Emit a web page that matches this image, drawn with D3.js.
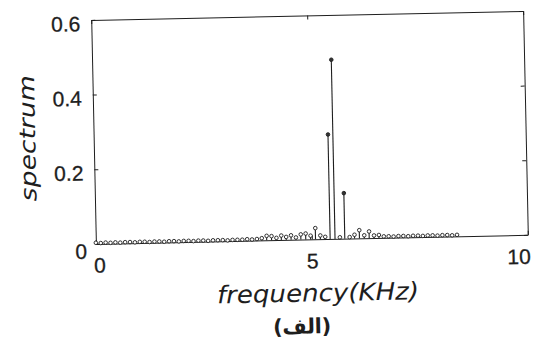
<!DOCTYPE html>
<html><head><meta charset="utf-8">
<script src="https://cdn.jsdelivr.net/npm/d3@7"></script>
<style>body{margin:0;background:#fff}svg{display:block}</style>
</head><body>
<svg id="c" width="537" height="346"></svg>
<script>
// Frequencies (kHz) of the spectral lines
const freqs = [0.000,0.113,0.226,0.339,0.452,0.565,0.678,0.791,0.904,1.017,
  1.130,1.243,1.356,1.469,1.582,1.695,1.808,1.921,2.034,2.147,
  2.260,2.373,2.486,2.599,2.712,2.825,2.938,3.051,3.164,3.277,
  3.390,3.503,3.616,3.729,3.842,3.955,4.068,4.181,4.294,4.407,
  4.520,4.633,4.746,4.859,4.972,5.085,5.198,5.311,5.424,5.537,
  5.650,5.763,5.876,5.989,6.102,6.215,6.328,6.441,6.554,6.667,
  6.780,6.893,7.006,7.119,7.232,7.345,7.458,7.571,7.684,7.797,
  7.910,8.023,8.136,8.249,8.362];
// Spectrum magnitudes
const spectrum = [0.003,0.002,0.003,0.002,0.003,0.002,0.003,0.003,0.002,0.003,
  0.003,0.002,0.003,0.003,0.002,0.003,0.003,0.002,0.003,0.003,
  0.002,0.003,0.003,0.002,0.003,0.003,0.003,0.002,0.003,0.003,
  0.003,0.004,0.003,0.004,0.006,0.012,0.011,0.006,0.012,0.008,
  0.012,0.006,0.014,0.016,0.010,0.030,0.010,0.006,0.280,0.480,
  0.004,0.122,0.004,0.010,0.022,0.008,0.018,0.007,0.008,0.004,
  0.004,0.003,0.004,0.004,0.003,0.004,0.004,0.003,0.004,0.004,
  0.003,0.004,0.004,0.003,0.004];
const xTicks = [0,5,10];
const yTicks = [0,0.2,0.4,0.6];
const yTickLabels = ["0","0.2","0.4","0.6"];
const xLabel = "frequency(KHz)";
const yLabel = "spectrum";
const caption = "(الف)";

const svg = d3.select("#c");
const L=93.5, R=525.5, T=15.4, B=239.4;
const cx=(L+R)/2, cy=(T+B)/2;
const g = svg.append("g").attr("transform",`rotate(-1.2,${cx},${cy})`);
const ink = "#1e1e1e";

const x = d3.scaleLinear().domain([0,10]).range([L,R]);
const y = d3.scaleLinear().domain([0,0.6]).range([B,T]);

function style(sel, labels){
  sel.selectAll("path.domain").attr("stroke",ink).attr("stroke-width",1);
  sel.selectAll(".tick line").attr("stroke",ink).attr("stroke-width",1);
  if(!labels) sel.selectAll(".tick text").remove();
  else sel.selectAll(".tick text").attr("fill",ink)
      .attr("font-family","'Liberation Sans',Arial,sans-serif").attr("font-size",21)
      .attr("stroke",ink).attr("stroke-width",0.3);
}
// bottom
const ax = g.append("g").attr("transform",`translate(0,${B})`)
  .call(d3.axisBottom(x).tickValues(xTicks).tickFormat(d3.format("d")).tickSizeInner(-4).tickSizeOuter(0).tickPadding(14));
style(ax,true);
ax.selectAll(".tick text").filter(d=>d===10).attr("text-anchor","end").attr("dx",2);
ax.selectAll(".tick text").filter(d=>d===0).attr("dx",3);
// top
const axT = g.append("g").attr("transform",`translate(0,${T})`)
  .call(d3.axisTop(x).tickValues(xTicks).tickSizeInner(-4).tickSizeOuter(0));
style(axT,false);
// left
const ay = g.append("g").attr("transform",`translate(${L},0)`)
  .call(d3.axisLeft(y).tickValues(yTicks).tickFormat((d,i)=>yTickLabels[i]).tickSizeInner(-4).tickSizeOuter(0).tickPadding(11));
style(ay,true);
ay.selectAll(".tick text").attr("dy","0.5em");
ay.selectAll(".tick text").filter(d=>d===0).attr("dy","0.68em").attr("dx",2);
// right
const ayR = g.append("g").attr("transform",`translate(${R},0)`)
  .call(d3.axisRight(y).tickValues(yTicks).tickSizeInner(-4).tickSizeOuter(0));
style(ayR,false);

// stems
const data = freqs.map((f,i)=>({f, v:spectrum[i]}));
g.append("g").selectAll("line").data(data).join("line")
  .attr("x1",d=>x(d.f)).attr("x2",d=>x(d.f))
  .attr("y1",y(0)).attr("y2",d=>y(d.v))
  .attr("stroke",ink).attr("stroke-width",1.1);
g.append("g").selectAll("circle").data(data).join("circle")
  .attr("cx",d=>x(d.f)).attr("cy",d=>y(d.v)).attr("r",1.8)
  .attr("fill",d=>d.v>0.05?"#333":"#fff").attr("stroke",ink).attr("stroke-width",0.9);

// labels
g.append("text").attr("x",(L+R)/2+5).attr("y",B+62)
  .attr("text-anchor","middle").attr("font-family","'DejaVu Sans',sans-serif")
  .attr("font-style","italic").attr("font-size",24).attr("fill",ink)
  .attr("textLength",202).attr("lengthAdjust","spacingAndGlyphs").text(xLabel);
g.append("text").attr("transform",`translate(35,${(T+B)/2+5}) rotate(-90)`)
  .attr("text-anchor","middle").attr("font-family","'DejaVu Sans',sans-serif")
  .attr("font-style","italic").attr("font-size",22).attr("fill",ink)
  .attr("textLength",126).attr("lengthAdjust","spacingAndGlyphs").text(yLabel);
g.append("text").attr("x",298).attr("y",B+94)
  .attr("text-anchor","middle").attr("font-family","'DejaVu Sans',sans-serif")
  .attr("font-weight","bold").attr("font-size",21).attr("fill",ink)
  .attr("direction","rtl").attr("textLength",58).attr("lengthAdjust","spacing").text(caption);
</script>
</body></html>
